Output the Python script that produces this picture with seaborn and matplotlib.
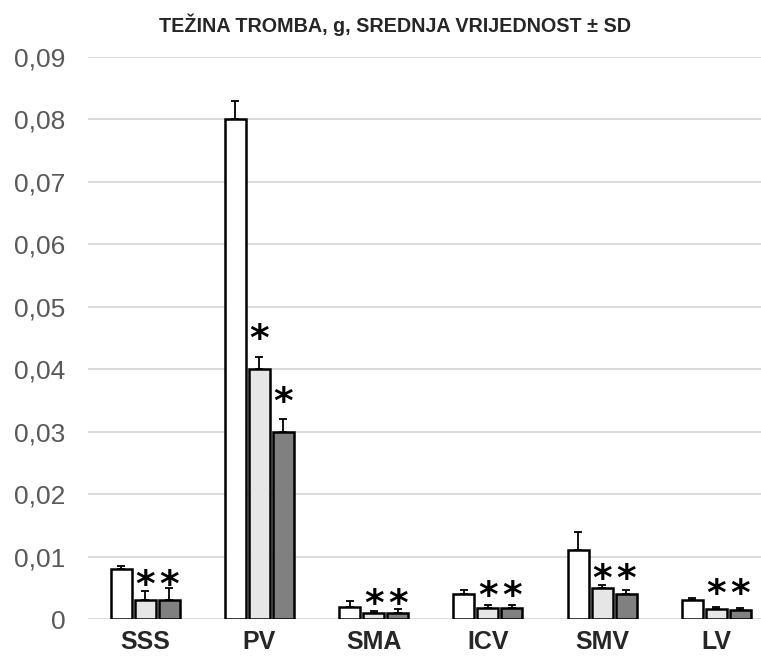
import matplotlib
matplotlib.use("Agg")
import matplotlib.pyplot as plt
from matplotlib.ticker import FuncFormatter, MultipleLocator
import seaborn as sns
import pandas as pd
import numpy as np

# values
categories = ['SSS', 'PV', 'SMA', 'ICV', 'SMV', 'LV']
groups = ['grupa 1', 'grupa 2', 'grupa 3']
mean_g1 = [0.008, 0.080, 0.002, 0.004, 0.011, 0.003]
mean_g2 = [0.003, 0.040, 0.001, 0.0018, 0.005, 0.0016]
mean_g3 = [0.003, 0.030, 0.001, 0.0017, 0.004, 0.0014]
sd_g1 = [0.0005, 0.003, 0.0009, 0.0007, 0.003, 0.0003]
sd_g2 = [0.0015, 0.002, 0.0003, 0.0005, 0.0005, 0.0004]
sd_g3 = [0.002, 0.002, 0.0006, 0.0005, 0.0006, 0.0004]
# height (centre) of the significance stars over groups 2 and 3
star_g2 = [0.0068, 0.0462, 0.0038, 0.0050, 0.0078, 0.0054]
star_g3 = [0.0068, 0.0361, 0.0038, 0.0050, 0.0078, 0.0054]
colors = ['#ffffff', '#e6e6e6', '#808080']

records = []
for g, means, sds in zip(groups, [mean_g1, mean_g2, mean_g3], [sd_g1, sd_g2, sd_g3]):
    for c, m, s in zip(categories, means, sds):
        records.append((c, g, m, s))
df = pd.DataFrame(records, columns=['kategorija', 'grupa', 'tezina', 'sd'])

sns.set_style("white")
plt.rcParams['font.family'] = ['Liberation Sans', 'DejaVu Sans']

fig = plt.figure(figsize=(7.61, 6.56), dpi=100)
ax = fig.add_axes([0.1156, 0.0564, 0.8844, 0.8567])

sns.barplot(data=df, x='kategorija', y='tezina', hue='grupa', order=categories,
            hue_order=groups, palette=colors, edgecolor='black', linewidth=1.8,
            width=0.63, gap=0.12, errorbar=None, legend=False, ax=ax, zorder=3)

star_size = 27
stars = [None, star_g2, star_g3]
sds_all = [sd_g1, sd_g2, sd_g3]
means_all = [mean_g1, mean_g2, mean_g3]
bar_conts = list(ax.containers)
for i, cont in enumerate(bar_conts):
    xs = [b.get_x() + b.get_width() / 2 for b in cont.patches]
    ax.errorbar(xs, means_all[i], yerr=[np.zeros(len(xs)), sds_all[i]], fmt='none',
                ecolor='black', elinewidth=1.3, capsize=3, capthick=1.3, zorder=4)
    if stars[i] is not None:
        for x, y in zip(xs, stars[i]):
            ax.annotate('*', xy=(x, y), xytext=(0, -0.52 * star_size), textcoords='offset points',
                        ha='center', va='baseline', fontsize=star_size, color='black',
                        family='DejaVu Sans', fontweight='bold', zorder=5)

ax.set_ylim(0, 0.09)
ax.set_xlim(-0.5, 5.39)
ax.yaxis.set_major_locator(MultipleLocator(0.01))
ax.yaxis.set_major_formatter(FuncFormatter(
    lambda v, p: '0' if abs(v) < 1e-9 else f'{v:.2f}'.replace('.', ',')))
ax.grid(axis='y', color='#d9d9d9', linewidth=1.3, zorder=0)
ax.set_axisbelow(True)
for s in ax.spines.values():
    s.set_visible(False)
ax.tick_params(axis='y', length=0, pad=16, labelsize=19, labelcolor='#595959')
ax.tick_params(axis='x', length=0, pad=8)
for lab in ax.get_xticklabels():
    lab.set_fontsize(18)
    lab.set_fontweight('bold')
ax.set_xlabel('')
ax.set_ylabel('')

fig.text(0.519, 0.962, 'TEŽINA TROMBA, g, SREDNJA VRIJEDNOST ± SD', ha='center', va='center',
         fontsize=14.2, fontweight='bold')

fig.savefig('out.png', dpi=100)
